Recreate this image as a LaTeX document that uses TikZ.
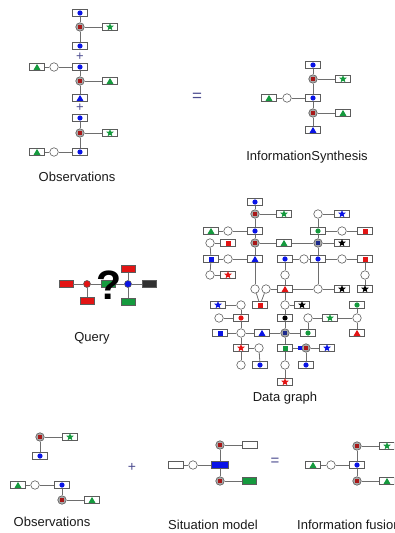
\documentclass[tikz,border=0pt]{standalone}
\usepackage{fontspec}
\setmainfont{Liberation Sans}
\usetikzlibrary{shapes.geometric}
\definecolor{ink}{HTML}{1A1A1A}
\definecolor{edge}{HTML}{6E6E6E}
\definecolor{frame}{HTML}{5C5C5C}
\definecolor{hub}{HTML}{A9A9A9}
\definecolor{cblue}{HTML}{0A14E6}
\definecolor{cgreen}{HTML}{159A3E}
\definecolor{cred}{HTML}{E31414}
\definecolor{cxred}{HTML}{A81818}
\definecolor{cnavy}{HTML}{1C2A8C}
\definecolor{opc}{HTML}{4B4B8F}
\tikzset{
  link/.style={draw=edge,line width=.8pt},
  box/.style={rectangle,draw=frame,fill=white,line width=.6pt,minimum width=15,minimum height=7,inner sep=0pt},
  mdot/.style={circle,inner sep=0pt,minimum size=5.2,fill=#1},
  mtri/.style={regular polygon,regular polygon sides=3,inner sep=0pt,minimum size=8,yshift=-.9pt,fill=#1},
  mstar/.style={star,star points=5,star point ratio=2.3,inner sep=0pt,minimum size=8,fill=#1},
  msq/.style={rectangle,inner sep=0pt,minimum size=5,fill=#1},
  boxbdot/.style={box,label={[mdot=cblue]center:}},
  boxgdot/.style={box,label={[mdot=cgreen]center:}},
  boxrdot/.style={box,label={[mdot=cred]center:}},
  boxkdot/.style={box,label={[mdot=black]center:}},
  boxgtri/.style={box,label={[mtri=cgreen]center:}},
  boxbtri/.style={box,label={[mtri=cblue]center:}},
  boxrtri/.style={box,label={[mtri=cred]center:}},
  boxgstar/.style={box,label={[mstar=cgreen]center:}},
  boxbstar/.style={box,label={[mstar=cblue]center:}},
  boxrstar/.style={box,label={[mstar=cred]center:}},
  boxkstar/.style={box,label={[mstar=black]center:}},
  boxrsq/.style={box,label={[msq=cred]center:}},
  boxbsq/.style={box,label={[msq=cblue]center:}},
  boxgsq/.style={box,label={[msq=cgreen]center:}},
  jn/.style={circle,draw=frame,fill=hub,line width=.6pt,minimum size=8.5,inner sep=0pt,label={[msq=#1,minimum size=3.8]center:}},
  jn/.default=cxred,
  jnb/.style={jn=cnavy},
  hollow/.style={circle,draw=frame,fill=white,line width=.6pt,minimum size=8.5,inner sep=0pt},
  qdot/.style={circle,draw=frame,fill=#1,line width=.6pt,minimum size=7,inner sep=0pt},
  qred/.style={qdot=cred},
  qblue/.style={qdot=cblue},
  slab/.style={rectangle,draw=frame,fill=#1,line width=.6pt,minimum width=14,minimum height=6.5,inner sep=0pt},
  slabred/.style={slab=cred},
  slabgreen/.style={slab=cgreen},
  slabblack/.style={slab=ink!90},
  caption/.style={font=\fontsize{13}{15}\selectfont,text=ink},
  oper/.style={font=\fontsize{#1}{#1}\selectfont,text=opc},
}

\begin{document}
\begin{tikzpicture}[x=1pt,y=-1pt]
  \clip (0,0) rectangle (394,533);
  % observations, top
  \foreach \n/\s/\x/\y in {o1/boxbdot/80/13,o2/jn/80/27,o3/boxgstar/110/27,o4/boxbdot/80/46,
    o5/boxgtri/37/67,o6/hollow/54/67,o7/boxbdot/80/67,o8/jn/80/81,o9/boxgtri/110/81,o10/boxbtri/80/98,
    o11/boxbdot/80/118,o12/jn/80/133,o13/boxgstar/110/133,o14/boxgtri/37/152,o15/hollow/54/152,o16/boxbdot/80/152}
    \node[\s] (\n) at (\x,\y) {};
  \foreach \a/\b in {o1/o2,o2/o4,o2/o3,o5/o6,o6/o7,o7/o8,o8/o10,o8/o9,o11/o12,o12/o16,o12/o13,o14/o15,o15/o16}
    \draw[link] (\a) -- (\b);
  \node[oper=13] (p1) at (80,57) {+};
  \node[oper=13] (p2) at (80,108) {+};
  \node[caption] (obsa) at (77,177) {Observations};
  \node[oper=17] (eqa) at (197,97) {=};
  % information synthesis
  \foreach \n/\s/\x/\y in {s1/boxbdot/313/65,s2/jn/313/79,s3/boxgstar/343/79,s4/boxgtri/269/98,s5/hollow/287/98,
    s6/boxbdot/313/98,s7/jn/313/113,s8/boxgtri/343/113,s9/boxbtri/313/130}
    \node[\s] (\n) at (\x,\y) {};
  \foreach \a/\b in {s1/s2,s2/s3,s2/s6,s4/s5,s5/s6,s6/s7,s7/s8,s7/s9}
    \draw[link] (\a) -- (\b);
  \node[caption] (syn) at (307,157) {InformationSynthesis};
  % query
  \foreach \n/\s/\x/\y in {q1/slabred/66/284,q2/qred/87/284,q3/slabred/87/301,q4/slabgreen/108/284,
    q5/qblue/128/284,q6/slabred/128/269,q7/slabgreen/128/302,q8/slabblack/149/284}
    \node[\s] (\n) at (\x,\y) {};
  \foreach \a/\b in {q1/q2,q2/q4,q4/q5,q5/q8,q2/q3,q5/q6,q5/q7}
    \draw[link] (\a) -- (\b);
  \node[font=\fontsize{41}{41}\selectfont\bfseries,text=black] (qm) at (109,285) {?};
  \node[caption] (qry) at (92,338) {Query};
  % data graph
  \foreach \n/\s/\x/\y in {d1/boxbdot/255/202,d2/jn/255/214,d3/boxgstar/284/214,d4/boxgtri/211/231,d5/hollow/228/231,
    d6/boxbdot/255/231,d7/hollow/210/243,d8/boxrsq/228/243,d9/jn/255/243,d10/boxgtri/284/243,d11/boxbsq/211/259,
    d12/hollow/228/259,d13/boxbtri/255/259,d14/hollow/210/275,d15/boxrstar/228/275,d16/hollow/255/289,
    d17/hollow/266/289,d18/boxrtri/285/289,d19/boxrsq/260/305,d20/boxbdot/285/259,d21/hollow/285/275,
    d22/hollow/285/305,d23/boxkstar/302/305,d24/boxkdot/285/318,d25/jnb/285/333,d26/boxgsq/285/348,
    d27/hollow/285/365,d28/boxrstar/285/382,
    d29/hollow/318/214,d30/boxbstar/342/214,d31/boxgdot/318/231,d32/hollow/342/231,d33/boxrsq/365/231,
    d34/jnb/318/243,d35/boxkstar/342/243,d36/hollow/304/259,d37/boxbdot/318/259,d38/hollow/342/259,
    d39/boxrsq/365/259,d40/hollow/365/275,d41/hollow/318/289,d42/boxkstar/342/289,d43/boxkstar/365/289,
    d44/boxgdot/357/305,d45/hollow/308/318,d46/boxgstar/330/318,d47/hollow/357/318,d48/boxgdot/308/333,
    d49/boxrtri/357/333,d51/jn/306/348,d52/boxbstar/327/348,d53/boxbdot/306/365,
    d54/boxbstar/218/305,d55/hollow/241/305,d56/hollow/219/318,d57/boxrdot/241/318,d58/boxbsq/220/333,
    d59/hollow/241/333,d60/boxbtri/262/333,d61/boxrstar/241/348,d62/hollow/259/348,d63/hollow/241/365,
    d64/boxbdot/260/365}
    \node[\s] (\n) at (\x,\y) {};
  \foreach \a/\b in {d1/d2,d2/d3,d2/d6,d4/d5,d5/d6,d6/d9,d7/d8,d9/d10,d10/d34,d9/d13,d7/d11,d11/d14,d11/d12,
    d12/d13,d14/d15,d13/d16,d16/d19,d17/d19,d17/d18,d20/d21,d21/d18,d18/d22,d22/d23,d22/d24,d24/d25,d25/d26,
    d26/d27,d27/d28,d20/d36,d36/d37,d37/d38,d38/d39,d39/d40,d40/d43,d29/d30,d29/d31,d31/d32,d32/d33,d31/d34,
    d34/d35,d34/d37,d37/d41,d18/d41,d41/d42,d60/d25,d25/d48,d45/d46,d46/d47,d45/d48,d44/d47,d47/d49,d26/d51,
    d51/d52,d51/d53,d54/d55,d55/d57,d56/d57,d57/d59,d58/d59,d59/d60,d59/d61,d61/d62,d61/d63,d62/d64}
    \draw[link] (\a) -- (\b);
  \node[msq=cblue,minimum size=4] (d50) at (300,348) {};
  \node[caption] (dg) at (285,398) {Data graph};
  % observations, bottom
  \foreach \n/\s/\x/\y in {b1/jn/40/437,b2/boxgstar/70/437,b3/boxbdot/40/456,b4/boxgtri/18/485,b5/hollow/35/485,
    b6/boxbdot/62/485,b7/jn/62/500,b8/boxgtri/92/500}
    \node[\s] (\n) at (\x,\y) {};
  \foreach \a/\b in {b1/b2,b1/b3,b4/b5,b5/b6,b6/b7,b7/b8}
    \draw[link] (\a) -- (\b);
  \node[oper=14] (pb) at (132,467) {+};
  \node[caption] (obsb) at (52,522) {Observations};
  % situation model
  \foreach \n/\s/\x/\y in {m1/box/176/465,m2/hollow/193/465,m4/jn/220/445,m5/box/250/445,m6/jn/220/481,
    m7/slabgreen/249/481}
    \node[\s] (\n) at (\x,\y) {};
  \node[slab=cblue,minimum width=17,minimum height=7] (m3) at (220,465) {};
  \foreach \a/\b in {m1/m2,m2/m3,m4/m3,m3/m6,m4/m5,m6/m7}
    \draw[link] (\a) -- (\b);
  \node[oper=15] (eqb) at (275,462) {=};
  \node[caption] (sit) at (213,525) {Situation model};
  % information fusion
  \foreach \n/\s/\x/\y in {f1/boxgtri/313/465,f2/hollow/331/465,f3/boxbdot/357/465,f4/jn/357/446,
    f5/boxgstar/387/446,f6/jn/357/481,f7/boxgtri/387/481}
    \node[\s] (\n) at (\x,\y) {};
  \foreach \a/\b in {f1/f2,f2/f3,f4/f3,f3/f6,f4/f5,f6/f7}
    \draw[link] (\a) -- (\b);
  \node[caption,anchor=west,inner sep=0pt] (fus) at (297,525) {Information fusion};
\end{tikzpicture}
\end{document}
